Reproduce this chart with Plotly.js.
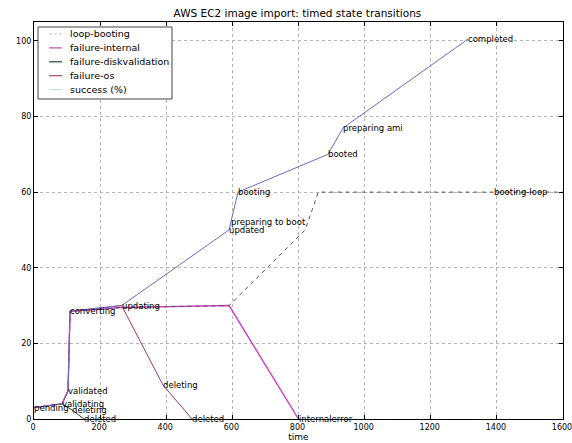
<!DOCTYPE html>
<html>
<head>
<meta charset="utf-8">
<script src="https://cdn.plot.ly/plotly-3.0.1.min.js"></script>
<style>html,body{margin:0;padding:0;background:#fff;}#chart{width:572px;height:443px;}</style>
</head>
<body>
<div id="chart"></div>
<script>
// time (s) and progress (%) for each outcome, with the state names reached
const successTime   = [0, 85, 103, 109, 265, 590, 595, 617, 889, 935, 1313];
const successPct    = [3, 4, 7.5, 28.5, 30, 50, 52, 60, 70, 77, 100.5];
const successStates = ["pending", "validating", "validated", "converting", "updating", "updated", "preparing to boot", "booting", "booted", "preparing ami", "completed"];

const internalTime   = [0, 85, 103, 109, 265, 590, 800];
const internalPct    = [3, 4, 7.5, 28.5, 29.5, 30, 0];
const internalStates = ["", "", "", "", "", "", "internalerror"];

const loopTime   = [0, 85, 103, 109, 265, 590, 820, 860, 1390, 1600];
const loopPct    = [3, 4, 7.5, 28.5, 29.5, 30, 50, 60, 60, 60];
const loopStates = ["", "", "", "", "", "", "", "", "booting-loop", ""];

const osTime   = [0, 85, 103, 109, 265, 390, 478];
const osPct    = [3, 4, 7.5, 28.5, 30, 9, 0];
const osStates = ["", "", "", "", "", "deleting", "deleted"];

const diskTime   = [0, 85, 115, 151];
const diskPct    = [3, 4, 2.4, 0];
const diskStates = ["", "", "deleting", "deleted"];

const legendNames  = ["loop-booting", "failure-internal", "failure-diskvalidation", "failure-os", "success (%)"];
const legendColors = ["#dcb8cc", "#c050b0", "#1e4a44", "#b04a70", "#c8e2e2"];
const legendDashes = ["dash", "solid", "solid", "solid", "solid"];
const xTicks = [0, 200, 400, 600, 800, 1000, 1200, 1400, 1600];
const yTicks = [0, 20, 40, 60, 80, 100];

const font = "DejaVu Sans, sans-serif";

function line(x, y, color, dash, width) {
  return {x: x, y: y, type: "scatter", mode: "lines", showlegend: false, hoverinfo: "skip",
          line: {color: color, width: width || 1, dash: dash || "solid"}};
}

const data = [
  line(diskTime, diskPct, "#1f3f3a"),
  line(osTime, osPct, "#9a3a6a"),
  line(internalTime, internalPct, "#d040c0", "solid", 1.4),
  line(loopTime, loopPct, "#555555", "4px,4px"),
  line(successTime, successPct, "#6c6cc4")
];

const annotations = [];
function addLabels(xs, ys, labels) {
  labels.forEach((t, i) => {
    if (!t) return;
    annotations.push({x: xs[i], y: ys[i], xref: "x", yref: "y", text: t, showarrow: false,
      xanchor: "left", yanchor: "middle", xshift: -2, font: {family: font, size: 8.5, color: "#000"}});
  });
}
addLabels(successTime, successPct, successStates);
addLabels(internalTime, internalPct, internalStates);
addLabels(loopTime, loopPct, loopStates);
addLabels(osTime, osPct, osStates);
addLabels(diskTime, diskPct, diskStates);

// legend box drawn in the upper-left corner (paper coordinates)
const plotL = 34, plotR = 563, plotT = 22, plotB = 419;
const px = v => (v - plotL) / (plotR - plotL);
const py = v => (plotB - v) / (plotB - plotT);
const shapes = [{type: "rect", xref: "paper", yref: "paper", x0: px(38), x1: px(172), y0: py(99), y1: py(27),
  fillcolor: "#fff", line: {color: "#444", width: 1}, layer: "above"}];
legendNames.forEach((name, i) => {
  const yc = 34 + i * 13.9;
  shapes.push({type: "line", xref: "paper", yref: "paper", x0: px(49), x1: px(62), y0: py(yc), y1: py(yc),
    line: {color: legendColors[i], width: 1.2, dash: legendDashes[i] === "dash" ? "3px,2px" : "solid"}, layer: "above"});
  annotations.push({xref: "paper", yref: "paper", x: px(68), y: py(yc), text: name, showarrow: false,
    xanchor: "left", yanchor: "middle", font: {family: font, size: 9.5, color: "#000"}});
});

const axisCommon = {
  showline: true, mirror: "allticks", linecolor: "#000", linewidth: 1,
  ticks: "inside", ticklen: 4, tickcolor: "#000",
  showgrid: true, gridcolor: "#b4b4b4", griddash: "dot", gridwidth: 1,
  zeroline: false, tickfont: {family: font, size: 8, color: "#000"}
};

const layout = {
  width: 572, height: 443,
  margin: {l: plotL, r: 572 - plotR, t: plotT, b: 443 - plotB},
  paper_bgcolor: "#fff", plot_bgcolor: "#fff",
  title: {text: "AWS EC2 image import: timed state transitions", font: {family: font, size: 10.5, color: "#000"},
          x: 0.52, xanchor: "center", y: 0.978, yanchor: "top"},
  xaxis: Object.assign({}, axisCommon, {range: [0, 1600], tickvals: xTicks, ticktext: xTicks.map(String),
          ticklabeloverflow: "allow", ticklabelshift: -1,
          title: {text: "time", font: {family: font, size: 9, color: "#000"}, standoff: 2}}),
  yaxis: Object.assign({}, axisCommon, {range: [0, 105], tickvals: yTicks, ticktext: yTicks.map(String)}),
  annotations: annotations,
  shapes: shapes,
  showlegend: false
};

Plotly.newPlot("chart", data, layout, {displayModeBar: false, staticPlot: true});
</script>
</body>
</html>
